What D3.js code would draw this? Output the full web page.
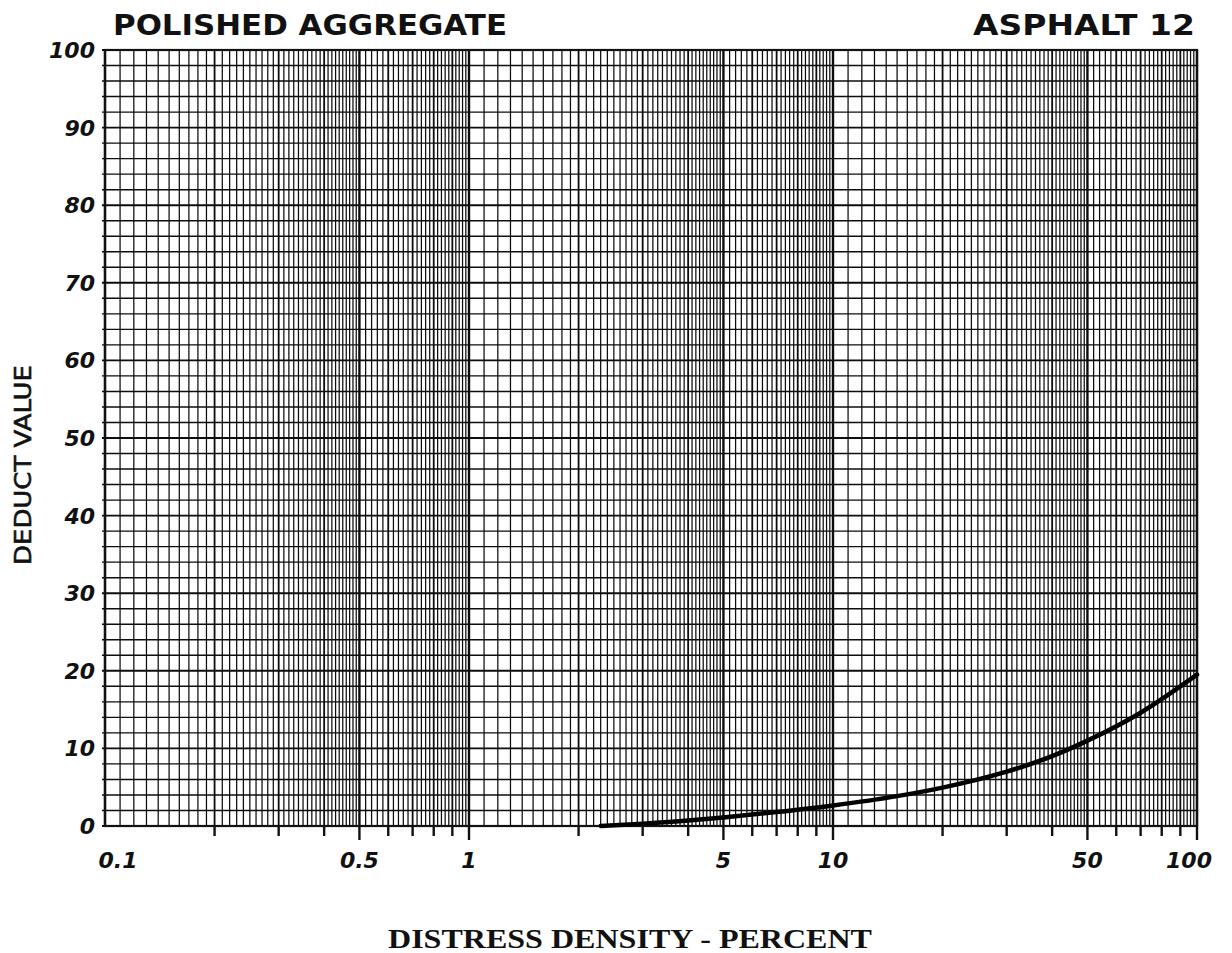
<!DOCTYPE html>
<html>
<head>
<meta charset="utf-8">
<script src="https://cdn.jsdelivr.net/npm/d3@7"></script>
<style>
  body { margin: 0; background: #fff; }
  svg { display: block; }
</style>
</head>
<body>
<svg id="chart"></svg>
<script>
// deduct curve (density %, deduct value)
var densities = [2.3, 3, 4, 5, 7, 10, 15, 20, 30, 40, 50, 70, 100];
var deducts   = [0, 0.3, 0.7, 1.1, 1.8, 2.65, 3.85, 4.95, 7.0, 9.0, 11.0, 14.6, 19.5];

var xLabelValues = [0.1, 0.5, 1, 5, 10, 50, 100];
var xLabels      = ["0.1", "0.5", "1", "5", "10", "50", "100"];
var yTicks       = [0, 10, 20, 30, 40, 50, 60, 70, 80, 90, 100];
var decades      = [0.1, 1, 10];
// log paper rulings inside one decade: [from, to, step] in multiples of the decade
var rulings      = [[1, 2, 0.1], [2, 5, 0.1], [5, 10, 0.2]];

var svgWidth = 1232, svgHeight = 953;
var margin = { top: 50, right: 35, bottom: 127, left: 105 };
var width = svgWidth - margin.left - margin.right;
var height = svgHeight - margin.top - margin.bottom;

var svg = d3.select("#chart")
    .attr("width", svgWidth)
    .attr("height", svgHeight);

var g = svg.append("g")
    .attr("transform", "translate(" + margin.left + "," + margin.top + ")");

var x = d3.scaleLog().domain([0.1, 100]).range([0, width]);
var y = d3.scaleLinear().domain([0, 100]).range([height, 0]);

// vertical grid lines
var vLines = [];
decades.forEach(function(d) {
    rulings.forEach(function(r) {
        var n = Math.round((r[1] - r[0]) / r[2]);
        for (var i = 0; i < n; i++) {
            var m = +(r[0] + i * r[2]).toFixed(2);
            vLines.push({ v: d * m, major: Number.isInteger(m), heavy: m === 1 || m === 5 });
        }
    });
});
vLines.push({ v: 100, major: true, heavy: true });

g.append("g").selectAll("line")
    .data(vLines)
    .join("line")
    .attr("x1", function(d) { return x(d.v); })
    .attr("x2", function(d) { return x(d.v); })
    .attr("y1", 0)
    .attr("y2", height)
    .attr("stroke", "#0d0d0d")
    .attr("stroke-width", function(d) { return d.heavy ? 2.4 : d.major ? 1.8 : 1.25; });

// horizontal grid lines every 2 units
g.append("g").selectAll("line")
    .data(d3.range(0, 101, 2))
    .join("line")
    .attr("x1", -3)
    .attr("x2", width)
    .attr("y1", function(d) { return y(d); })
    .attr("y2", function(d) { return y(d); })
    .attr("stroke", "#0d0d0d")
    .attr("stroke-width", function(d) { return d % 10 === 0 ? 1.9 : 1.4; });

// frame
g.append("rect")
    .attr("width", width)
    .attr("height", height)
    .attr("fill", "none")
    .attr("stroke", "#111")
    .attr("stroke-width", 2.2);

// ticks below the x axis
g.append("g").selectAll("line")
    .data(vLines.filter(function(d) { return d.major && d.v > 0.1; }))
    .join("line")
    .attr("x1", function(d) { return x(d.v); })
    .attr("x2", function(d) { return x(d.v); })
    .attr("y1", height)
    .attr("y2", function(d) { return height + (d.heavy ? 14 : 10); })
    .attr("stroke", "#111")
    .attr("stroke-width", 2.4);

var tickFont = "'DejaVu Sans', sans-serif";

// y tick labels
g.append("g").selectAll("text")
    .data(yTicks)
    .join("text")
    .attr("x", -10)
    .attr("y", function(d) { return y(d); })
    .attr("dy", "0.36em")
    .attr("text-anchor", "end")
    .attr("font-family", tickFont)
    .attr("font-weight", "bold")
    .attr("font-style", "italic")
    .attr("font-size", 22)
    .attr("fill", "#111")
    .text(function(d) { return d; });

// x tick labels
g.append("g").selectAll("text")
    .data(xLabelValues)
    .join("text")
    .attr("x", function(d) { return x(d); })
    .attr("dx", function(d, i) { return i === 0 ? 13 : i === xLabelValues.length - 1 ? -8 : 0; })
    .attr("y", height + 42)
    .attr("text-anchor", "middle")
    .attr("font-family", tickFont)
    .attr("font-weight", "bold")
    .attr("font-style", "italic")
    .attr("font-size", 22)
    .attr("fill", "#111")
    .text(function(d, i) { return xLabels[i]; });

// deduct curve
var curveData = densities.map(function(d, i) { return { x: d, y: deducts[i] }; });
var line = d3.line()
    .x(function(d) { return x(d.x); })
    .y(function(d) { return y(d.y); })
    .curve(d3.curveMonotoneX);

g.append("path")
    .datum(curveData)
    .attr("fill", "none")
    .attr("stroke", "#000")
    .attr("stroke-width", 4.5)
    .attr("stroke-linecap", "round")
    .attr("d", line);

// titles
svg.append("text")
    .attr("x", 113)
    .attr("y", 35)
    .attr("font-family", "'DejaVu Sans', sans-serif")
    .attr("font-weight", "bold")
    .attr("font-size", 28)
    .attr("textLength", 394)
    .attr("lengthAdjust", "spacingAndGlyphs")
    .attr("fill", "#111")
    .text("POLISHED AGGREGATE");

svg.append("text")
    .attr("x", 973)
    .attr("y", 35)
    .attr("font-family", "'DejaVu Sans', sans-serif")
    .attr("font-weight", "bold")
    .attr("font-size", 28)
    .attr("textLength", 222)
    .attr("lengthAdjust", "spacingAndGlyphs")
    .attr("fill", "#111")
    .text("ASPHALT 12");

svg.append("text")
    .attr("transform", "translate(31,465) rotate(-90)")
    .attr("text-anchor", "middle")
    .attr("font-family", "'DejaVu Sans', sans-serif")
    .attr("font-size", 23)
    .attr("textLength", 200)
    .attr("lengthAdjust", "spacingAndGlyphs")
    .attr("fill", "#111")
    .attr("stroke", "#111")
    .attr("stroke-width", 0.6)
    .text("DEDUCT VALUE");

svg.append("text")
    .attr("x", 630)
    .attr("y", 948)
    .attr("text-anchor", "middle")
    .attr("font-family", "'Liberation Serif', 'Times New Roman', serif")
    .attr("font-weight", "bold")
    .attr("font-size", 27)
    .attr("textLength", 484)
    .attr("lengthAdjust", "spacingAndGlyphs")
    .attr("fill", "#111")
    .text("DISTRESS DENSITY - PERCENT");
</script>
</body>
</html>
